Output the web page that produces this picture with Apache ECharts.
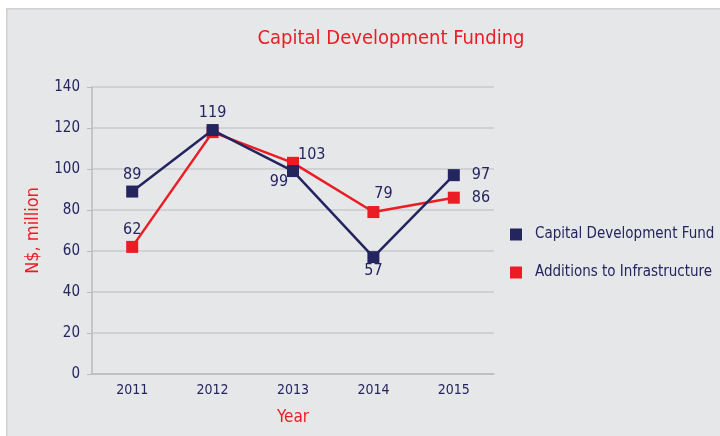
<!DOCTYPE html>
<html>
<head>
<meta charset="utf-8">
<script src="https://cdn.jsdelivr.net/npm/echarts@6/dist/echarts.min.js"></script>
<style>
  html, body { margin: 0; padding: 0; background: #ffffff; }
  #chart { width: 720px; height: 436px; }
</style>
</head>
<body>
<div id="chart"></div>
<script>
const years = ["2011", "2012", "2013", "2014", "2015"];
const capitalFund = [89, 119, 99, 57, 97];
const infrastructure = [62, 118, 103, 79, 86];
const yTicks = [0, 20, 40, 60, 80, 100, 120, 140];

const NAVY = "#24245f";
const RED = "#ec1c24";
const FONT = "'Liberation Sans Narrow', 'DejaVu Sans Condensed', 'Noto Sans', sans-serif";

const chart = echarts.init(document.getElementById("chart"));

// label placement per point
const navyLabels = [
  { position: "top", distance: 3 },
  { position: "top", distance: 3 },
  { position: "bottom", offset: [-14, -8] },
  { position: "bottom", distance: 0 },
  { position: "right", distance: 12 }
];
const redLabels = [
  { position: "top", distance: 3 },
  { show: false },
  { position: "right", offset: [-6, -8] },
  { position: "top", offset: [10, 1] },
  { position: "right", distance: 12 }
];

function build(values, labels) {
  return values.map((v, i) => ({ value: v, label: labels[i] }));
}

const option = {
  backgroundColor: "#ffffff",
  textStyle: { fontFamily: FONT },
  graphic: [
    {
      type: "rect",
      left: 6, top: 8,
      shape: { width: 720, height: 436 },
      style: { fill: "#e6e7e9", stroke: "#cfd0d3", lineWidth: 1.5 },
      z: -10
    }
  ],
  title: {
    text: "Capital Development Funding",
    left: 386,
    textAlign: "center",
    top: 24,
    textStyle: { color: RED, fontSize: 20, fontWeight: "normal", fontFamily: FONT }
  },
  legend: {
    orient: "vertical",
    left: 505,
    top: 222,
    itemGap: 23,
    itemWidth: 12,
    itemHeight: 12,
    icon: "rect",
    textStyle: { color: NAVY, fontSize: 15, fontFamily: FONT, padding: [0, 0, 0, 8] },
    data: ["Capital Development Fund", "Additions to Infrastructure"]
  },
  grid: { left: 92, right: 226, top: 87, bottom: 62 },
  xAxis: {
    type: "category",
    data: years,
    name: "Year",
    nameLocation: "middle",
    nameGap: 35,
    nameTextStyle: { color: RED, fontSize: 17, fontFamily: FONT },
    axisLine: { lineStyle: { color: "#b9babd", width: 1.5 } },
    axisTick: { show: false },
    axisLabel: { color: NAVY, fontSize: 14, margin: 9, fontFamily: FONT }
  },
  yAxis: {
    type: "value",
    min: 0,
    max: 140,
    interval: 20,
    name: "N$, million",
    nameLocation: "middle",
    nameGap: 50,
    nameTextStyle: { color: RED, fontSize: 18, fontFamily: FONT },
    axisLine: { show: true, lineStyle: { color: "#b9babd", width: 1.5 } },
    axisTick: { show: true, length: 5, lineStyle: { color: "#b9babd" } },
    axisLabel: {
      color: NAVY, fontSize: 15, margin: 12, fontFamily: FONT,
      formatter: v => yTicks.includes(v) ? String(v) : ""
    },
    splitLine: { lineStyle: { color: "#c9cacd", width: 1.5 } }
  },
  series: [
    {
      name: "Additions to Infrastructure",
      type: "line",
      data: build(infrastructure, redLabels),
      symbol: "rect",
      symbolSize: 12,
      lineStyle: { color: RED, width: 2.5 },
      itemStyle: { color: RED },
      label: { show: true, color: NAVY, fontSize: 16, fontFamily: FONT },
      z: 2
    },
    {
      name: "Capital Development Fund",
      type: "line",
      data: build(capitalFund, navyLabels),
      symbol: "rect",
      symbolSize: 12,
      lineStyle: { color: NAVY, width: 2.5 },
      itemStyle: { color: NAVY },
      label: { show: true, color: NAVY, fontSize: 16, fontFamily: FONT },
      z: 3
    }
  ]
};

chart.setOption(option);
</script>
</body>
</html>
